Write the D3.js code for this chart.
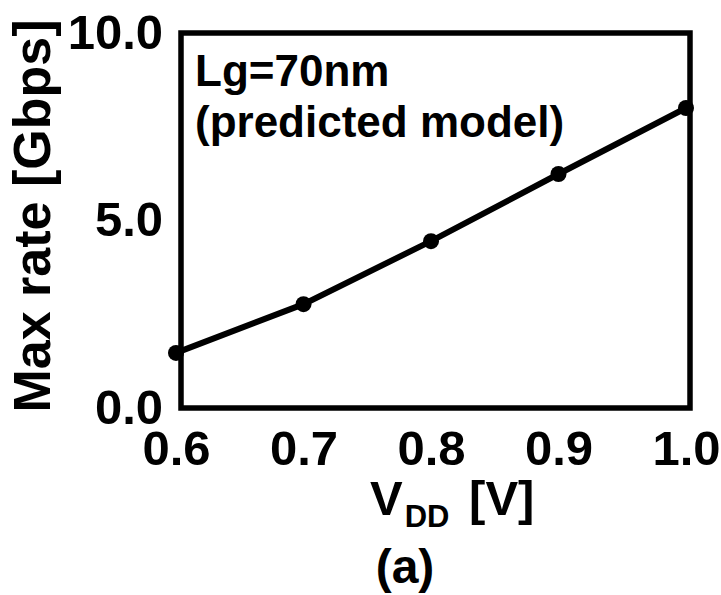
<!DOCTYPE html>
<html>
<head>
<meta charset="utf-8">
<script src="https://cdn.jsdelivr.net/npm/d3@7"></script>
<style>
  body { margin: 0; background: #fff; }
  text { font-family: Arial, "Liberation Sans", sans-serif; font-weight: bold; fill: #000; }
</style>
</head>
<body>
<div id="chart"></div>
<script>
// data
var vdd = [0.6, 0.7, 0.8, 0.9, 1.0];
var maxRate = [1.47, 2.77, 4.45, 6.24, 8.0];
var xTicks = [0.6, 0.7, 0.8, 0.9, 1.0];
var yTicks = [0, 5, 10];

var width = 721, height = 595;

var svg = d3.select("#chart")
  .append("svg")
    .attr("width", width)
    .attr("height", height);

// scales
var x = d3.scaleLinear().domain([0.6, 1.0]).range([176, 686]);
var y = d3.scaleLinear().domain([0, 10]).range([408, 33]);

// frame box
svg.append("rect")
    .attr("x", x(0.6) + 5)
    .attr("y", y(10))
    .attr("width", x(1.0) + 4 - (x(0.6) + 5))
    .attr("height", y(0) - y(10))
    .attr("fill", "none")
    .attr("stroke", "#000")
    .attr("stroke-width", 5.5);

// x axis labels
var xAxis = svg.append("g")
    .attr("transform", "translate(0," + y(0) + ")")
    .call(d3.axisBottom(x).tickValues(xTicks).tickFormat(d3.format(".1f")).tickSize(0).tickPadding(0));
xAxis.select(".domain").remove();
xAxis.selectAll("text")
    .attr("dy", null)
    .attr("y", 57)
    .style("font-size", "49px")
    .style("font-family", "Arial, 'Liberation Sans', sans-serif")
    .style("font-weight", "bold");

// y axis labels
var yAxis = svg.append("g")
    .attr("transform", "translate(163,0)")
    .call(d3.axisLeft(y).tickValues(yTicks).tickFormat(d3.format(".1f")).tickSize(0).tickPadding(0));
yAxis.select(".domain").remove();
yAxis.selectAll("text")
    .attr("dy", null)
    .attr("y", 15)
    .style("font-size", "49px")
    .style("font-family", "Arial, 'Liberation Sans', sans-serif")
    .style("font-weight", "bold");

// the line
svg.append("path")
    .datum(vdd)
    .attr("fill", "none")
    .attr("stroke", "#000")
    .attr("stroke-width", 6)
    .attr("d", d3.line()
        .x(function(d) { return x(d) })
        .y(function(d, i) { return y(maxRate[i]) })
    );

svg.selectAll("circle")
    .data(vdd)
    .enter()
    .append("circle")
    .attr("cx", function(d) { return x(d) })
    .attr("cy", function(d, i) { return y(maxRate[i]) })
    .attr("r", 8)
    .attr("fill", "#000");

// annotation
svg.append("text")
    .attr("x", 195)
    .attr("y", 86)
    .style("font-size", "44px")
    .text("Lg=70nm");
svg.append("text")
    .attr("x", 195)
    .attr("y", 137)
    .style("font-size", "44px")
    .text("(predicted model)");

// x title
var xt = svg.append("text")
    .attr("x", 370)
    .attr("y", 515)
    .style("font-size", "49px");
xt.append("tspan").text("V");
xt.append("tspan").attr("dy", 12).attr("dx", 2).style("font-size", "31px").text("DD");
xt.append("tspan").attr("dy", -12).attr("dx", 6).text(" [V]");

svg.append("text")
    .attr("x", 405)
    .attr("y", 583)
    .attr("text-anchor", "middle")
    .style("font-size", "48px")
    .text("(a)");

// y title
svg.append("text")
    .attr("transform", "translate(50,216) rotate(-90)")
    .attr("text-anchor", "middle")
    .style("font-size", "52px")
    .text("Max rate [Gbps]");
</script>
</body>
</html>
